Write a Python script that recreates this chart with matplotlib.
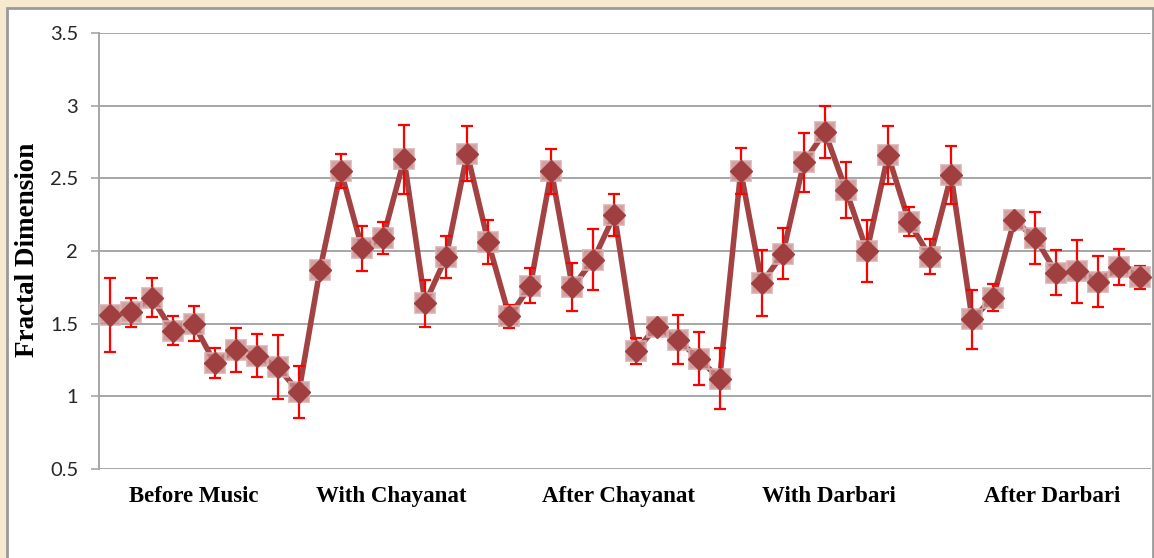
import matplotlib.pyplot as plt
from matplotlib.patches import Rectangle
import numpy as np

# Mean fractal dimension per sample, 10 samples per listening condition
conditions = ["Before Music", "With Chayanat", "After Chayanat", "With Darbari", "After Darbari"]

fd_mean = [
    1.56, 1.58, 1.68, 1.45, 1.50, 1.23, 1.32, 1.28, 1.20, 1.03,
    1.87, 2.55, 2.02, 2.09, 2.63, 1.64, 1.96, 2.67, 2.06, 1.55,
    1.76, 2.55, 1.75, 1.94, 2.25, 1.31, 1.48, 1.39, 1.26, 1.12,
    2.55, 1.78, 1.98, 2.61, 2.82, 2.42, 2.00, 2.66, 2.20, 1.96,
    2.52, 1.53, 1.68, 2.21, 2.09, 1.85, 1.86, 1.79, 1.89, 1.82,
]

fd_err = [
    0.255, 0.10, 0.135, 0.10, 0.12, 0.105, 0.15, 0.15, 0.22, 0.18,
    0.03, 0.115, 0.155, 0.11, 0.235, 0.16, 0.145, 0.19, 0.15, 0.08,
    0.12, 0.155, 0.165, 0.21, 0.145, 0.09, 0.03, 0.17, 0.18, 0.21,
    0.16, 0.225, 0.175, 0.205, 0.18, 0.195, 0.215, 0.20, 0.10, 0.12,
    0.20, 0.205, 0.09, 0.03, 0.18, 0.155, 0.215, 0.175, 0.125, 0.08,
]

# where each condition name sits along the sample axis
label_pos = [4.0, 13.4, 24.2, 34.2, 44.8]

x = np.arange(len(fd_mean))

fig = plt.figure(figsize=(11.54, 5.58), dpi=100)
fig.patch.set_facecolor("#f6e9d0")

# white chart frame over the slide background
frame = Rectangle((7 / 1154, -0.05), 1146 / 1154, 1 - 8 / 558 + 0.05,
                  transform=fig.transFigure, facecolor="white",
                  edgecolor="#9a9a9a", linewidth=2.0, zorder=-1)
fig.patches.append(frame)

ax = fig.add_axes([99 / 1154, 1 - 469 / 558, 1052 / 1154, 436 / 558])
ax.set_zorder(1)
ax.set_facecolor("white")

ax.plot(x, fd_mean, color="#a34242", linewidth=4.0, zorder=2,
        solid_joinstyle="miter")
ax.errorbar(x, fd_mean, yerr=fd_err, fmt="none", ecolor="#ff0000",
            elinewidth=1.6, capsize=4.5, capthick=1.6, zorder=3)
# soft square halo behind each diamond
ax.plot(x, fd_mean, linestyle="none", marker="s", markersize=15,
        markerfacecolor="#c68a8a", markeredgecolor="#dbb0b0",
        markeredgewidth=1.4, alpha=0.8, zorder=4)
ax.plot(x, fd_mean, linestyle="none", marker="D", markersize=11,
        markerfacecolor="#a03f3f", markeredgecolor="#a03f3f", zorder=5)

ax.set_xlim(-0.5, len(fd_mean) - 0.5)
ax.set_ylim(0.5, 3.5)
ax.set_yticks(np.arange(0.5, 3.51, 0.5))
ax.set_yticklabels(["0.5", "1", "1.5", "2", "2.5", "3", "3.5"],
                   fontfamily="Lato", fontsize=14.5, color="#262626")
ax.yaxis.grid(True, color="#a6a6a6", linewidth=1.4, zorder=1)
ax.set_axisbelow(True)
ax.tick_params(axis="y", length=6, width=1.2, color="#a6a6a6", pad=9)

ax.set_xticks(label_pos)
ax.set_xticklabels(conditions, fontfamily="Liberation Serif",
                   fontweight="bold", fontsize=16.5, color="black")
ax.tick_params(axis="x", length=0, pad=12)

for side in ["top", "right", "bottom"]:
    ax.spines[side].set_visible(False)
ax.spines["left"].set_color("#a6a6a6")
ax.spines["left"].set_linewidth(1.4)

fig.text(28 / 1154, 1 - 250 / 558, "Fractal Dimension", rotation=90,
         ha="center", va="center", fontfamily="Liberation Serif",
         fontweight="bold", fontsize=19.5, color="black", zorder=2)

fig.savefig("out.png", dpi=100, facecolor=fig.get_facecolor())
